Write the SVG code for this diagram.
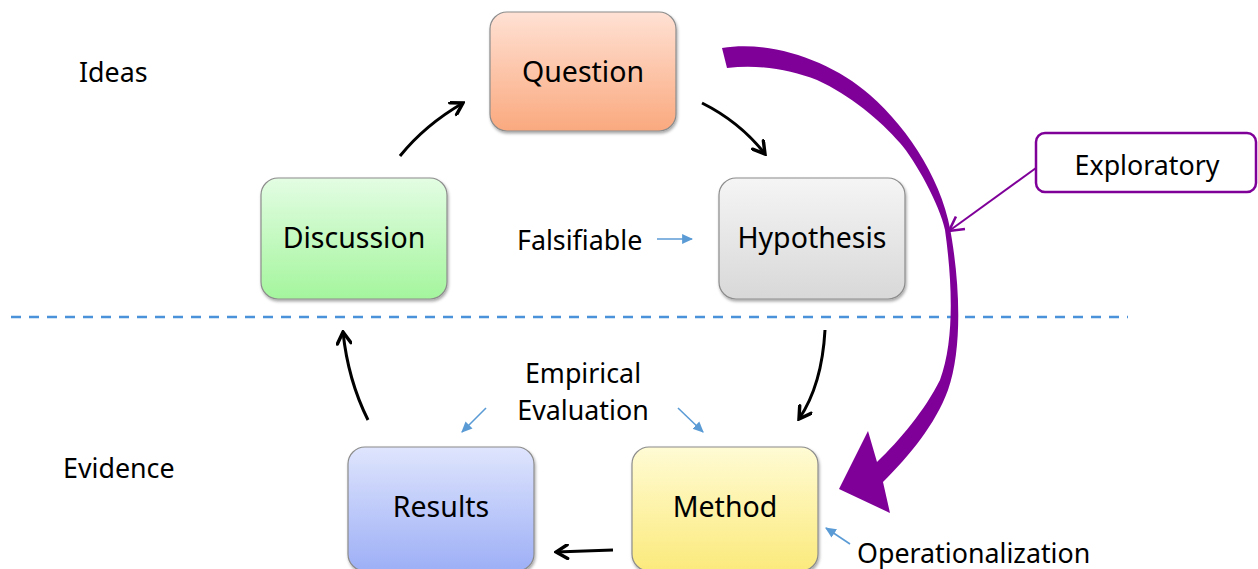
<svg xmlns="http://www.w3.org/2000/svg" width="1258" height="569" viewBox="0 0 1258 569">
<style>
.box{stroke:#8c8c8c;stroke-width:1.2}
.nt{font-family:"Noto Sans","Liberation Sans",sans-serif;font-size:28.5px;fill:#000;text-anchor:middle}
.lb{font-family:"Noto Sans","Liberation Sans",sans-serif;font-size:26.8px;fill:#000}
.blk{fill:none;stroke:#000;stroke-width:3;marker-end:url(#chev)}
.blu{fill:none;stroke:#5B9BD5;stroke-width:1.6;marker-end:url(#tri)}
</style>
<defs>
<linearGradient id="gQ" x1="0" y1="0" x2="0" y2="1"><stop offset="0" stop-color="#FFE1D4"/><stop offset="1" stop-color="#FAA97E"/></linearGradient>
<linearGradient id="gD" x1="0" y1="0" x2="0" y2="1"><stop offset="0" stop-color="#E3FDE3"/><stop offset="1" stop-color="#A4F59D"/></linearGradient>
<linearGradient id="gH" x1="0" y1="0" x2="0" y2="1"><stop offset="0" stop-color="#F5F5F5"/><stop offset="1" stop-color="#D8D8D8"/></linearGradient>
<linearGradient id="gR" x1="0" y1="0" x2="0" y2="1"><stop offset="0" stop-color="#DFE5FD"/><stop offset="1" stop-color="#9DAFF6"/></linearGradient>
<linearGradient id="gM" x1="0" y1="0" x2="0" y2="1"><stop offset="0" stop-color="#FFFBD4"/><stop offset="1" stop-color="#FBEA7C"/></linearGradient>
<filter id="sh" x="-10%" y="-10%" width="120%" height="125%"><feDropShadow dx="1" dy="2" stdDeviation="1.5" flood-color="#000" flood-opacity="0.35"/></filter>
<marker id="chev" markerUnits="userSpaceOnUse" viewBox="0 0 14 14" refX="12" refY="7" markerWidth="16" markerHeight="16" orient="auto"><path d="M2,1 L12,7 L2,13" fill="none" stroke="#000" stroke-width="3" stroke-linecap="round" stroke-linejoin="miter"/></marker>
<marker id="tri" markerUnits="userSpaceOnUse" viewBox="0 0 10 10" refX="9" refY="5" markerWidth="11" markerHeight="11" orient="auto"><path d="M0,0.5 L10,5 L0,9.5 Z" fill="#5B9BD5"/></marker>
<marker id="pchev" markerUnits="userSpaceOnUse" viewBox="0 0 14 14" refX="12" refY="7" markerWidth="18" markerHeight="18" orient="auto"><path d="M1,1 L12,7 L1,13" fill="none" stroke="#7F0099" stroke-width="2"/></marker>
</defs>
<rect width="1258" height="569" fill="#fff"/>

<line x1="11" y1="317" x2="1128" y2="317" stroke="#4A93DA" stroke-width="2.4" stroke-dasharray="10 8"/>

<text class="lb" x="79" y="82">Ideas</text>
<text class="lb" x="63" y="478">Evidence</text>

<g id="question"><rect class="box" x="490" y="12" width="186" height="119" rx="17" fill="url(#gQ)" filter="url(#sh)"/><text class="nt" x="583" y="82">Question</text></g>
<g id="hypothesis"><rect class="box" x="719" y="178" width="186" height="121" rx="17" fill="url(#gH)" filter="url(#sh)"/><text class="nt" x="812" y="248">Hypothesis</text></g>
<g id="discussion"><rect class="box" x="261" y="178" width="186" height="121" rx="17" fill="url(#gD)" filter="url(#sh)"/><text class="nt" x="354" y="248">Discussion</text></g>
<g id="results"><rect class="box" x="348" y="447" width="186" height="124" rx="17" fill="url(#gR)" filter="url(#sh)"/><text class="nt" x="441" y="517">Results</text></g>
<g id="method"><rect class="box" x="632" y="447" width="186" height="124" rx="17" fill="url(#gM)" filter="url(#sh)"/><text class="nt" x="725" y="517">Method</text></g>
<g id="exploratory"><rect x="1036" y="133" width="220" height="59" rx="9" fill="#fff" stroke="#7F0099" stroke-width="2.5"/><text class="lb" x="1147" y="175" text-anchor="middle">Exploratory</text></g>

<g id="labels">
<text class="lb" x="517" y="250">Falsifiable</text>
<text class="lb" x="583" y="383" text-anchor="middle">Empirical</text>
<text class="lb" x="583" y="420" text-anchor="middle">Evaluation</text>
<text class="lb" x="857" y="563">Operationalization</text>
</g>

<g id="connectors">
<path class="blk" d="M400,156 Q425,125 463,103"/>
<path class="blk" d="M702,103 Q740,122 765,154"/>
<path class="blk" d="M825,330 Q822,385 799,419"/>
<path class="blk" d="M613,550 Q585,551 556,552"/>
<path class="blk" d="M368,420 Q348,380 343,332"/>
<path class="blu" d="M657,239 L692,239"/>
<path class="blu" d="M486,408 L462,432"/>
<path class="blu" d="M678,408 L703,432"/>
<path class="blu" d="M850,544 L826,528"/>
<path d="M722,48 C770,40 830,60 870,95 C910,130 945,185 952,240 C960,290 962,350 948,390 C935,425 910,455 883,482 L890,513 L839,489 L868,431 L877,462 C900,440 925,410 940,380 C955,340 952,280 945,230 C940,205 915,160 900,143 C880,120 850,95 817,80 C790,70 760,64 727,68 Z" fill="#7F0099"/>
<path d="M1036,168 L949,231" fill="none" stroke="#7F0099" stroke-width="2" marker-end="url(#pchev)"/>
</g>
</svg>
